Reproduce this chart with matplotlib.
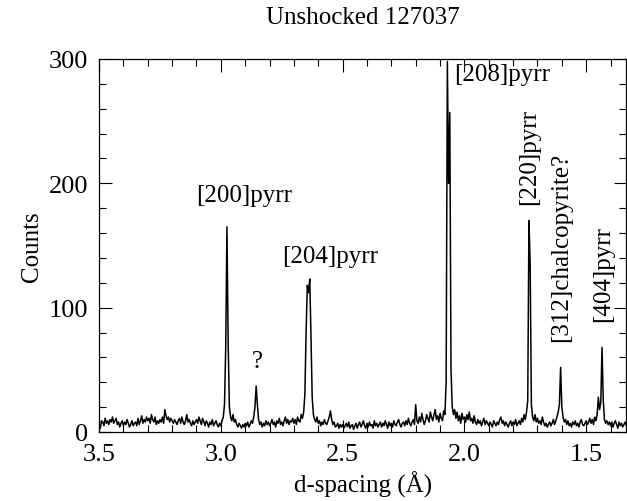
import numpy as np
import matplotlib
matplotlib.use('Agg')
import matplotlib.pyplot as plt
from matplotlib.ticker import MultipleLocator

plt.rcParams['font.family'] = ['Liberation Serif', 'DejaVu Serif']

# d-spacing grid (Å), one reading every 0.005 Å from 3.5 down to 1.335
d_inicio = 3.5
d_fim = 1.335
n_pontos = 434

# counts, 10 readings per row (0.05 Å per row)
contagens = [
    6, 3, 9, 8, 5, 11, 7, 9, 6, 10,
    8, 12, 7, 9, 11, 6, 8, 4, 7, 9,
    5, 8, 6, 10, 7, 4, 6, 9, 5, 7,
    8, 5, 11, 6, 9, 13, 7, 10, 8, 12,
    9, 11, 7, 14, 10, 8, 12, 6, 9, 7,
    10, 8, 12, 7, 18, 13, 10, 12, 8, 11,
    9, 7, 10, 8, 6, 9, 11, 7, 12, 8,
    6, 9, 14, 8, 10, 7, 5, 9, 6, 8,
    10, 7, 12, 9, 6, 11, 8, 5, 9, 7,
    4, 8, 6, 10, 5, 7, 9, 6, 4, 7,
    5, 9, 12, 22, 68, 165, 72, 20, 12, 9,
    14, 8, 10, 6, 4, 7, 5, 3, 6, 4,
    7, 5, 8, 4, 6, 9, 7, 12, 20, 37,
    22, 10, 6, 8, 4, 7, 5, 9, 6, 8,
    5, 7, 10, 6, 8, 4, 9, 7, 11, 6,
    8, 5, 9, 12, 7, 10, 6, 9, 8, 11,
    7, 10, 6, 12, 9, 8, 14, 11, 16, 30,
    80, 118, 112, 123, 78, 28, 14, 10, 8, 12,
    7, 9, 5, 8, 6, 10, 7, 6, 9, 12,
    17, 10, 6, 8, 4, 5, 7, 3, 6, 4,
    6, 3, 5, 7, 4, 8, 3, 5, 6, 2,
    5, 7, 3, 6, 8, 4, 6, 9, 5, 3,
    7, 4, 8, 5, 6, 3, 9, 5, 7, 4,
    6, 8, 4, 7, 5, 9, 6, 3, 8, 5,
    7, 4, 9, 6, 5, 8, 10, 6, 4, 7,
    8, 5, 9, 6, 11, 7, 5, 8, 10, 6,
    22, 9, 7, 12, 8, 15, 10, 6, 9, 14,
    11, 8, 16, 12, 9, 14, 18, 10, 13, 8,
    15, 11, 9, 17, 14, 40, 298, 200, 257, 50,
    20, 14, 18, 11, 16, 9, 13, 7, 15, 10,
    12, 8, 14, 10, 16, 9, 11, 7, 13, 8,
    6, 10, 7, 9, 5, 8, 11, 6, 9, 7,
    5, 8, 6, 4, 9, 7, 5, 8, 6, 10,
    12, 7, 9, 5, 8, 6, 4, 7, 9, 5,
    8, 6, 10, 5, 7, 9, 6, 11, 8, 14,
    10, 16, 25, 170, 135, 22, 12, 9, 14, 8,
    11, 7, 9, 6, 12, 8, 5, 7, 4, 6,
    8, 5, 7, 10, 6, 9, 12, 16, 22, 52,
    20, 12, 8, 10, 6, 9, 5, 7, 4, 8,
    6, 9, 5, 7, 4, 8, 10, 6, 5, 7,
    9, 6, 8, 11, 7, 10, 6, 12, 9, 14,
    28, 18, 24, 68, 26, 10, 7, 9, 6, 8,
    5, 8, 4, 7, 9, 6, 3, 8, 5, 7,
    4, 6, 8, 5,
]
d_spacing = np.linspace(d_inicio, d_fim, n_pontos)

# peak labels: text, d position, counts position, rotated?
rotulos = ['[200]pyrr', '?', '[204]pyrr', '[208]pyrr',
           '[220]pyrr', '[312]chalcopyrite?', '[404]pyrr']
rotulos_d = [2.905, 2.852, 2.553, 1.844, 1.734, 1.603, 1.43]
rotulos_y = [186, 52, 137, 283, 183, 73, 89]
rotulos_rot = [0, 0, 0, 0, 90, 90, 90]

fig = plt.figure(figsize=(6.27, 5.02), dpi=100)
ax = fig.add_axes([0.158, 0.1375, 0.841, 0.743])
ax.plot(d_spacing, contagens, color='black', linewidth=1.1)

for txt, xd, yc, rot in zip(rotulos, rotulos_d, rotulos_y, rotulos_rot):
    if rot == 0:
        ax.text(xd, yc, txt, ha='center', va='baseline', fontsize=18)
    else:
        ax.text(xd, yc, txt, ha='center', va='bottom', rotation=90,
                fontsize=18)

ax.set_xlim(3.5, 1.335)
ax.set_ylim(0, 300)
ax.xaxis.set_major_locator(MultipleLocator(0.5))
ax.xaxis.set_minor_locator(MultipleLocator(0.1))
ax.yaxis.set_major_locator(MultipleLocator(100))
ax.yaxis.set_minor_locator(MultipleLocator(20))
ax.xaxis.set_major_formatter(plt.FormatStrFormatter('%.1f'))
ax.tick_params(which='both', direction='in', top=True, right=True,
               labelsize=19, width=0.8)
ax.tick_params(which='major', length=9, pad=8)
ax.tick_params(which='minor', length=5)
for sp in ax.spines.values():
    sp.set_linewidth(0.9)

ax.set_title('Unshocked 127037', fontsize=18, pad=26)
ax.set_xlabel('d-spacing (Å)', fontsize=18, labelpad=4)
ax.set_ylabel('Counts', fontsize=18, labelpad=4)

fig.savefig('out.png', dpi=100)
